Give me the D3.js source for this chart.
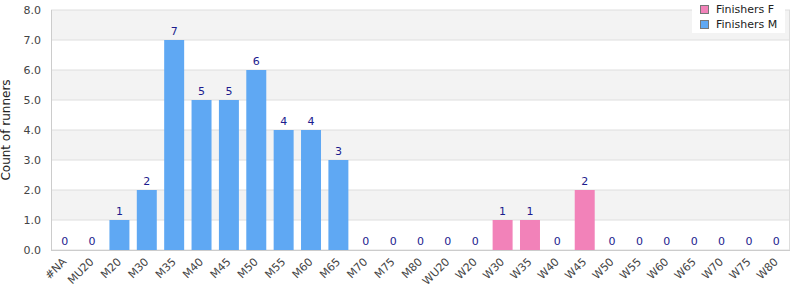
<!DOCTYPE html>
<html>
<head>
<meta charset="utf-8" />
<script src="https://d3js.org/d3.v7.min.js"></script>
<style>
    body { margin: 0; font-family: "DejaVu Sans", sans-serif; background: #fff; }
</style>
</head>
<body>
<svg id="chart"></svg>
<script>

// categories and counts
var categories = ["#NA", "MU20", "M20", "M30", "M35", "M40", "M45", "M50", "M55", "M60", "M65",
    "M70", "M75", "M80", "WU20", "W20", "W30", "W35", "W40", "W45", "W50", "W55", "W60",
    "W65", "W70", "W75", "W80"];
var finishersM = [0, 0, 1, 2, 7, 5, 5, 6, 4, 4, 3, 0, 0, 0, 0, 0, 0, 0, 0, 0, 0, 0, 0, 0, 0, 0, 0];
var finishersF = [0, 0, 0, 0, 0, 0, 0, 0, 0, 0, 0, 0, 0, 0, 0, 0, 1, 1, 0, 2, 0, 0, 0, 0, 0, 0, 0];
var yTicks = [0, 1, 2, 3, 4, 5, 6, 7, 8];
var seriesNames = ["Finishers F", "Finishers M"];
var seriesColors = ["#f282b9", "#5fa8f3"];

var W = 800, H = 300;
var margin = {top: 10, right: 10, bottom: 50, left: 51};
var width = W - margin.left - margin.right,
    height = H - margin.top - margin.bottom;

var svg = d3.select("#chart").attr("width", W).attr("height", H);
var chart = svg.append("g")
    .attr("transform", "translate(" + margin.left + "," + margin.top + ")");

var x = d3.scaleBand().domain(categories).range([0, width]).paddingInner(0.27).paddingOuter(0.135);
var y = d3.scaleLinear().domain([0, 8]).range([height, 0]);

// alternating stripes
chart.selectAll(".stripe")
    .data(yTicks.slice(0, -1))
    .enter().append("rect")
    .attr("x", 0)
    .attr("width", width)
    .attr("y", function(d){ return y(d + 1); })
    .attr("height", function(d){ return y(d) - y(d + 1); })
    .attr("fill", function(d){ return d % 2 === 1 ? "#f3f3f3" : "#fff"; });

// grid lines
chart.selectAll(".grid")
    .data(yTicks)
    .enter().append("line")
    .attr("x1", 0).attr("x2", width)
    .attr("y1", function(d){ return y(d); })
    .attr("y2", function(d){ return y(d); })
    .attr("stroke", "#dedede");

// frame
chart.append("line").attr("x1", 0.5).attr("x2", 0.5).attr("y1", 0).attr("y2", height).attr("stroke", "#ccc");
chart.append("line").attr("x1", width - 0.5).attr("x2", width - 0.5).attr("y1", 0).attr("y2", height).attr("stroke", "#ddd");
chart.append("line").attr("x1", 0).attr("x2", width).attr("y1", height + 0.5).attr("y2", height + 0.5).attr("stroke", "#ccc");

// bars
var rows = categories.map(function(c, i){
    var isF = finishersF[i] > 0;
    return {cat: c, value: isF ? finishersF[i] : finishersM[i], color: isF ? seriesColors[0] : seriesColors[1]};
});

chart.selectAll(".bar")
    .data(rows)
    .enter().append("rect")
    .attr("class", "bar")
    .attr("x", function(d){ return x(d.cat); })
    .attr("width", x.bandwidth())
    .attr("y", function(d){ return y(d.value); })
    .attr("height", function(d){ return y(0) - y(d.value); })
    .attr("fill", function(d){ return d.color; });

// value labels
chart.selectAll(".vlabel")
    .data(rows)
    .enter().append("text")
    .attr("x", function(d){ return x(d.cat) + x.bandwidth() / 2; })
    .attr("y", function(d){ return y(d.value) - 5; })
    .attr("text-anchor", "middle")
    .attr("font-size", "11px")
    .attr("fill", "#1c1c8e")
    .text(function(d){ return d.value; });

// y axis labels
chart.selectAll(".ylabel")
    .data(yTicks)
    .enter().append("text")
    .attr("x", -10)
    .attr("y", function(d){ return y(d); })
    .attr("dy", "0.35em")
    .attr("text-anchor", "end")
    .attr("font-size", "11px")
    .attr("fill", "#444")
    .text(function(d){ return d.toFixed(1); });

// x axis labels
chart.selectAll(".xlabel")
    .data(categories)
    .enter().append("text")
    .attr("transform", function(d){
        return "translate(" + (x(d) + x.bandwidth() / 2 - 3) + "," + (height + 7) + ") rotate(-45)";
    })
    .attr("text-anchor", "end")
    .attr("dy", "0.7em")
    .attr("font-size", "11px")
    .attr("fill", "#444")
    .text(function(d){ return d; });

// y title
svg.append("text")
    .attr("transform", "translate(10," + (margin.top + height / 2) + ") rotate(-90)")
    .attr("text-anchor", "middle")
    .attr("font-size", "12px")
    .attr("fill", "#222")
    .text("Count of runners");

// legend
var legend = svg.append("g").attr("transform", "translate(692,0)");
legend.append("rect").attr("width", 93).attr("height", 33).attr("fill", "#fff");
seriesNames.forEach(function(name, i){
    legend.append("rect")
        .attr("x", 8.5).attr("y", 5.5 + i * 15)
        .attr("width", 8).attr("height", 8)
        .attr("fill", seriesColors[i])
        .attr("stroke", "#777");
    legend.append("text")
        .attr("x", 24).attr("y", 9.5 + i * 15)
        .attr("dy", "0.35em")
        .attr("font-size", "11px")
        .attr("fill", "#222")
        .text(name);
});

</script>
</body>
</html>
